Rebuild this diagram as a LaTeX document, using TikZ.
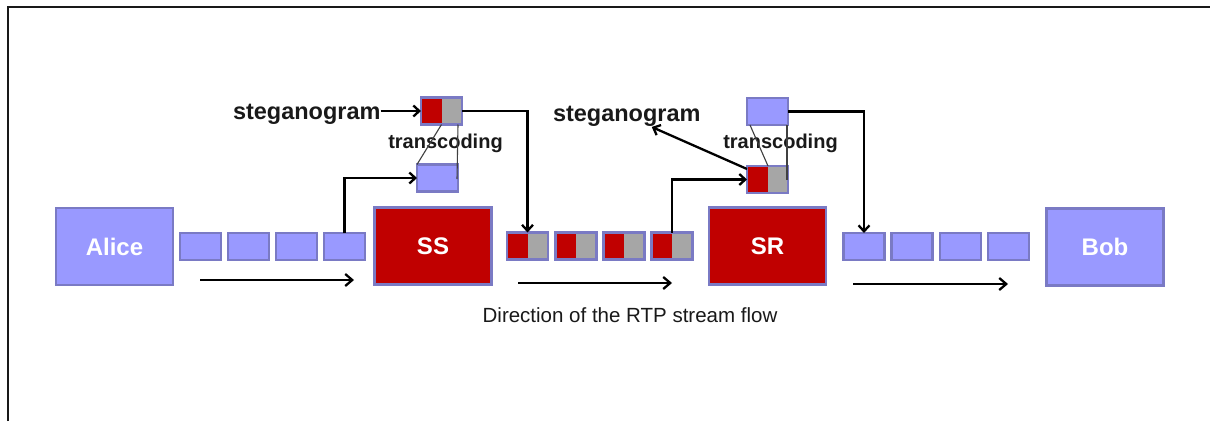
\documentclass[tikz,border=0pt]{standalone}
\usepackage{fontspec}
\setmainfont{Liberation Sans}
\usetikzlibrary{arrows.meta,calc}
\definecolor{pktfill}{HTML}{9999FF}
\definecolor{pktedge}{HTML}{7A7AC4}
\definecolor{hostred}{HTML}{C00000}
\definecolor{payload}{HTML}{A6A6A6}
\begin{document}
\begin{tikzpicture}[x=1pt,y=-1pt,
  every node/.style={inner sep=0pt,outer sep=0pt},
  pkt/.style={rectangle,minimum width=41pt,minimum height=27pt,fill=pktfill,draw=pktedge,line width=2.6pt},
  stegopkt/.style={pkt,fill=payload,path picture={
      \fill[hostred] (path picture bounding box.south west) rectangle (path picture bounding box.north);}},
  host/.style={rectangle,minimum width=117pt,minimum height=77pt,fill=pktfill,draw=pktedge,line width=2.6pt,
      text=white,font=\bfseries\fontsize{24}{28}\selectfont},
  relay/.style={host,fill=hostred},
  lbl/.style={font=\bfseries\fontsize{23.5}{27}\selectfont,text=black!90},
  trlbl/.style={font=\bfseries\fontsize{20}{24}\selectfont,text=black!90},
  flow/.style={line width=2.3pt,-{Straight Barb[length=7pt,width=12pt,line width=2.3pt]}},
  link/.style={line width=2.3pt,-{Straight Barb[length=6pt,width=11pt,line width=2.3pt]}},
  tcline/.style={line width=1.1pt,black!75}]
\useasboundingbox (0,0) rectangle (1210,421);
\fill[white] (0,0) rectangle (1210,421);
% frame
\draw[line width=2.4pt,black!90] (8,421) -- (8,7) -- (1210,7);

% end points and relays
\node[host]  (alice) at (114.5,246.5) {Alice};
\node[relay] (ss)    at (433,246)     {SS};
\node[relay] (sr)    at (767.5,246)   {SR};
\node[host]  (bob)   at (1105,247)    {Bob};

% packets from Alice to SS
\node[pkt] (p1) at (200.5,246.5) {};
\node[pkt] (p2) at (248.5,246.5) {};
\node[pkt] (p3) at (296.5,246.5) {};
\node[pkt] (p4) at (344.5,246.5) {};

% packets between SS and SR (carrying hidden data)
\node[stegopkt] (m1) at (527.5,246) {};
\node[stegopkt] (m2) at (576,246)   {};
\node[stegopkt] (m3) at (624,246)   {};
\node[stegopkt] (m4) at (672,246)   {};

% packets from SR to Bob
\node[pkt] (r1) at (864,246.5)   {};
\node[pkt] (r2) at (912,246.5)   {};
\node[pkt] (r3) at (960.5,246.5) {};
\node[pkt] (r4) at (1008.5,246.5) {};

% SS side: embedding
\node[stegopkt] (ssout) at (441.5,111) {};
\node[pkt]      (ssin)  at (437.5,178) {};
\node[lbl,anchor=base west] (st1) at (233,119) {steganogram};
\node[trlbl] (tc1) at (445.5,143) {transcoding};
\draw[link] (st1.east |- ssout.west) -- (ssout.west);
\draw[link] (p4.north) |- (ssin.west);
\draw[link] (ssout.east) -| (m1.north);
\draw[tcline] (ssout.south) -- (ssin.north west);
\draw[tcline] ($(ssout.south east)+(-4,0)$) -- ($(ssin.east)+(-1,1)$);

% SR side: extraction
\node[pkt]      (srout) at (767.5,111.5) {};
\node[stegopkt] (srin)  at (767.5,179.5) {};
\node[lbl,anchor=base west] (st2) at (553,121) {steganogram};
\node[trlbl] (tc2) at (780.5,143) {transcoding};
\draw[link] (m4.north) |- (srin.west);
\draw[link] ($(srin.north west)+(0,3)$) -- ($(st2.south)+(25,1)$);
\draw[link] (srout.east) -| (r1.north);
\draw[tcline] ($(srout.south west)+(3,0)$) -- ($(srin.north)+(0.5,0)$);
\draw[tcline] ($(srout.south east)+(-1,0)$) -- ($(srin.east)+(-1,0)$);

% stream direction
\coordinate (fa1) at (200,280);  \coordinate (fa2) at (354,280);
\coordinate (fb1) at (518,283);  \coordinate (fb2) at (672,283);
\coordinate (fc1) at (853,284);  \coordinate (fc2) at (1008,284);
\draw[flow] (fa1) -- (fa2);
\draw[flow] (fb1) -- (fb2);
\draw[flow] (fc1) -- (fc2);
\node[font=\fontsize{20.5}{24}\selectfont,text=black!90] (dir) at (630,315) {Direction of the RTP stream flow};
\end{tikzpicture}
\end{document}
